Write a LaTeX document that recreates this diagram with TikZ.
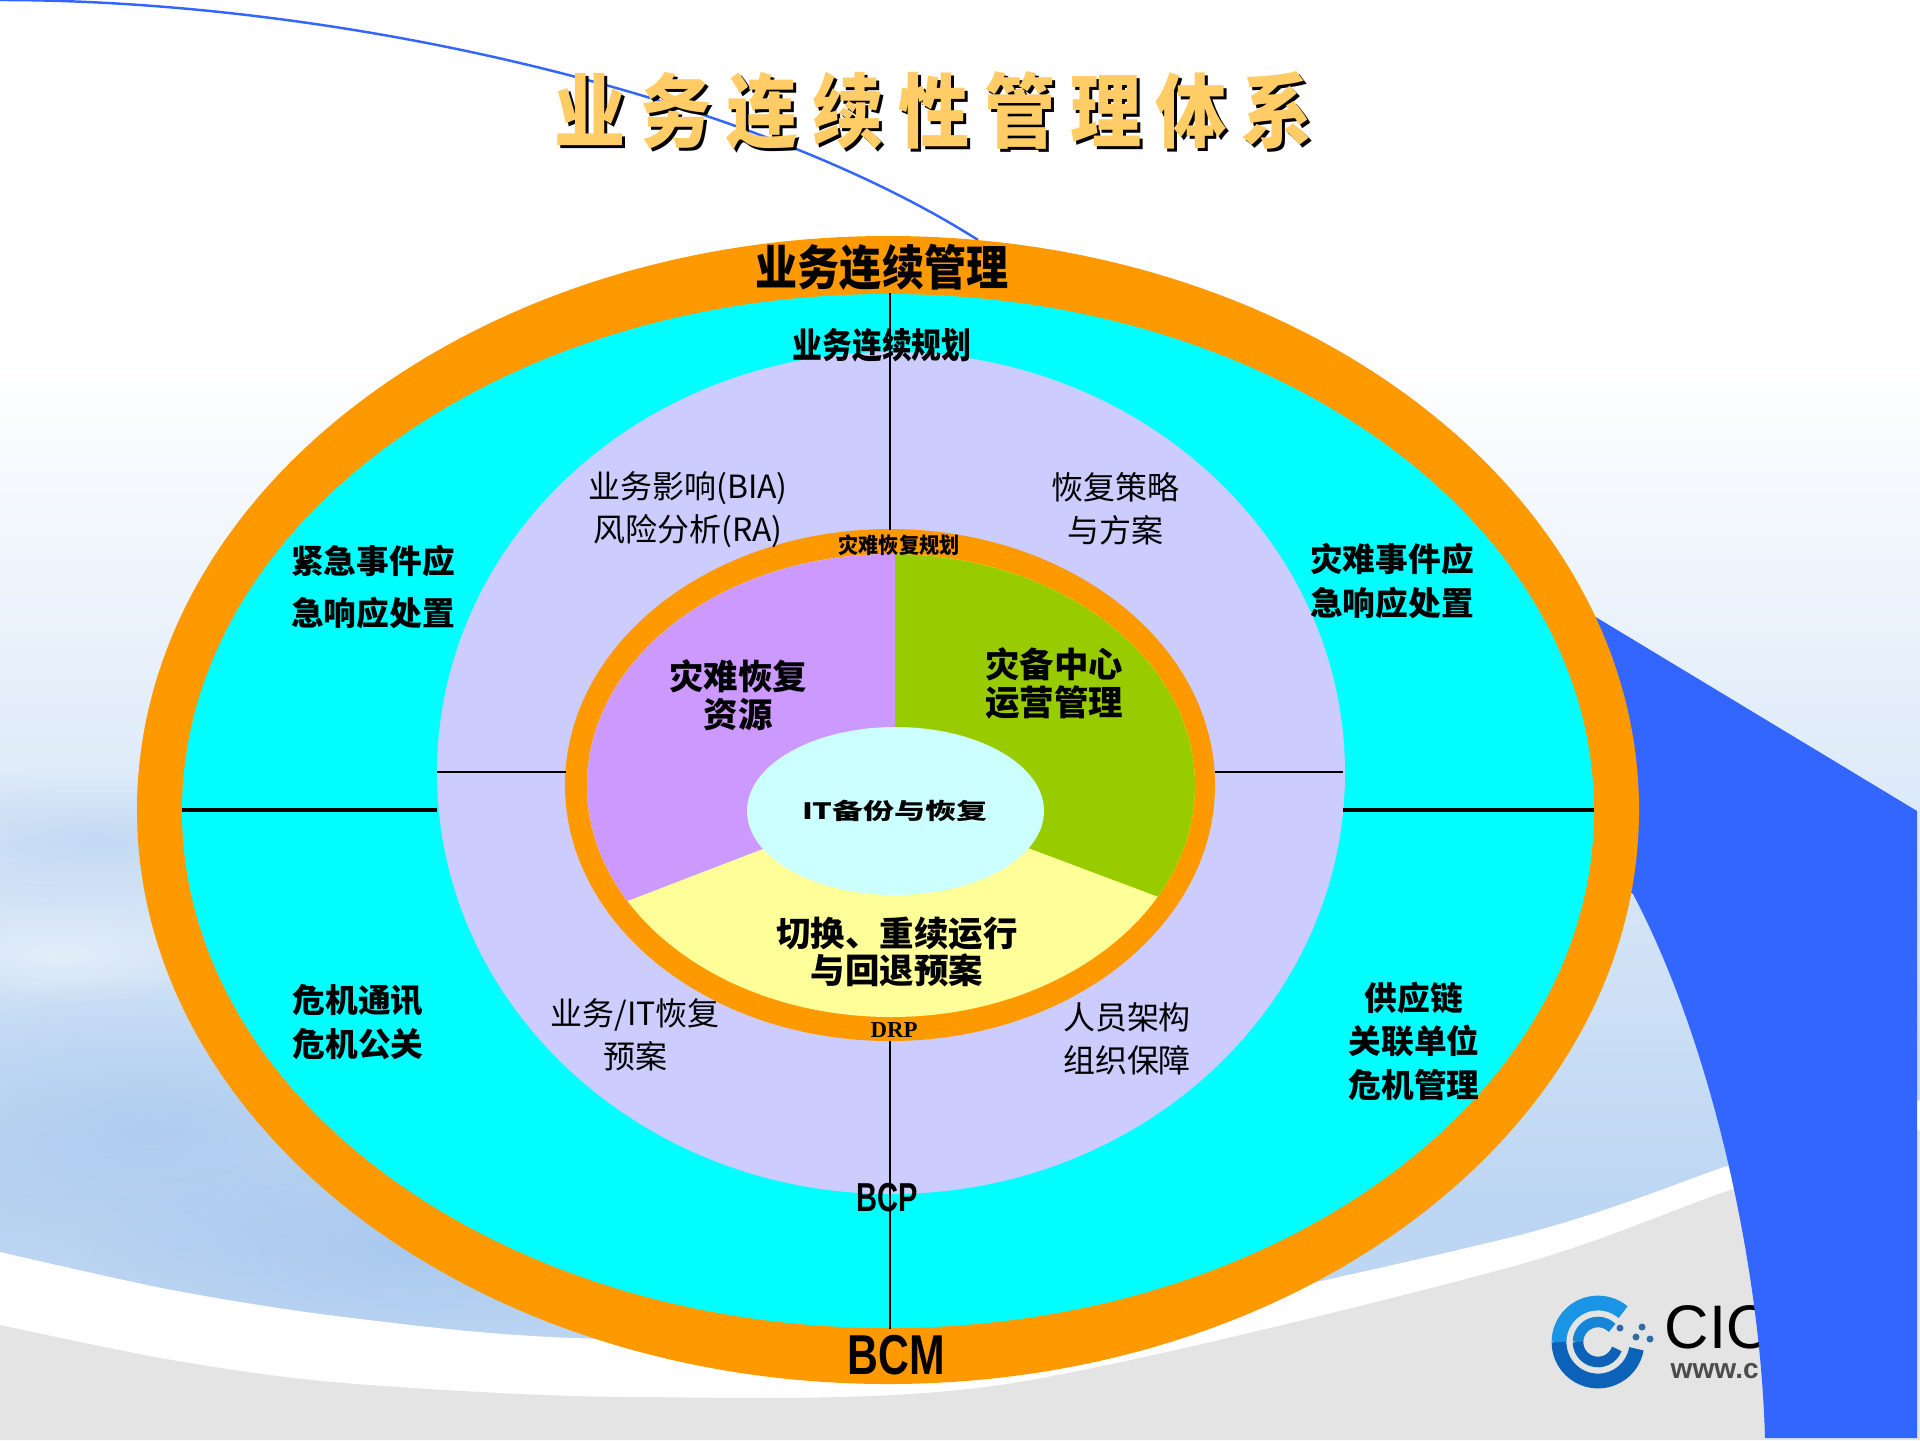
\documentclass[tikz,border=0pt]{standalone}
\usepackage{fontspec}
\setmainfont{Noto Sans CJK SC}
\newfontfamily\bcmfont{Liberation Sans}
\newfontfamily\drpfont{Liberation Serif}
\usetikzlibrary{fadings}
\definecolor{ringorange}{HTML}{FF9900}
\definecolor{ringcyan}{HTML}{00FFFF}
\definecolor{ringlav}{HTML}{CCCCFF}
\definecolor{slicepurple}{HTML}{CC99FF}
\definecolor{slicegreen}{HTML}{99CC00}
\definecolor{sliceyellow}{HTML}{FFFF99}
\definecolor{corepale}{HTML}{CCFFFF}
\definecolor{swoopblue}{HTML}{3366FF}
\definecolor{titlegold}{HTML}{FFCC66}
\definecolor{floorgray}{HTML}{E4E4E4}
\definecolor{hazeblue}{HTML}{BDD6F3}
\definecolor{streakblue}{HTML}{A4C6EE}
\definecolor{logotop}{HTML}{1A94E4}
\definecolor{logolow}{HTML}{0B62B8}
\newcommand{\sx}[2]{\scalebox{#1}[1]{#2}}
\tikzfading[name=softblob,inner color=transparent!20,outer color=transparent!100]
\tikzset{
  lab/.style={align=center,font=\fontsize{9.1}{12.2}\selectfont},
  blab/.style={align=center,font=\fontsize{9.3}{12.4}\selectfont\bfseries},
  slab/.style={align=center,font=\fontsize{9.8}{10.8}\selectfont\bfseries},
  spoke/.style={black,line width=0.5pt},
  hspoke/.style={black,line width=0.9pt},
  titletext/.style={font=\fontsize{23}{23}\selectfont\bfseries\addfontfeature{LetterSpace=20.7}},
}
\begin{document}
\begin{tikzpicture}[x=1cm,y=-1cm]
\useasboundingbox (0,0) rectangle (19.2,14.4);
\fill[white] (0,0) rectangle (19.2,3.6);
\shade[top color=white,bottom color=hazeblue] (0,3.6) rectangle (19.2,12);
\fill[hazeblue] (0,12) rectangle (19.2,14.4);
\fill[streakblue,opacity=.5,path fading=softblob] (1,8.4) ellipse [x radius=3,y radius=.7];
\fill[streakblue,opacity=.8,path fading=softblob] (1.5,11.3) ellipse [x radius=3.6,y radius=1.5];
\fill[streakblue,path fading=softblob] (4.2,12.5) ellipse [x radius=3.5,y radius=1];
\fill[white,opacity=.5,path fading=softblob] (.6,9.54) ellipse [x radius=1.8,y radius=.5];
\fill[white] plot[smooth] coordinates {(0,12.52) (1.72,12.9) (3.44,13.17) (5.74,13.38) (10,13.4) (15,12.4) (17.33,11.64) (19.2,11)} -- (19.2,14.4) -- (0,14.4) -- cycle;
\fill[floorgray] plot[smooth] coordinates {(0,13.25) (1.72,13.6) (3.44,13.83) (6.31,13.97) (10,13.85) (15,12.7) (17.33,11.89) (19.2,11.3)} -- (19.2,14.4) -- (0,14.4) -- cycle;

\draw[line width=4.2pt,logotop] (15.98,13.42) ++(180:.39) arc[start angle=180,end angle=310,radius=.39];
\draw[line width=4.2pt,logolow] (15.98,13.42) ++(10:.39) arc[start angle=10,end angle=180,radius=.39];
\draw[line width=3pt,logotop!70!logolow] (15.98,13.42) ++(180:.2) arc[start angle=180,end angle=315,radius=.2];
\draw[line width=3pt,logolow] (15.98,13.42) ++(20:.2) arc[start angle=20,end angle=180,radius=.2];
\foreach \dx/\dy in {16.2/13.28,16.42/13.27,16.36/13.37,16.5/13.39}
  \fill[logolow!70!gray] (\dx,\dy) circle (.035);
\node[anchor=west,inner sep=0pt,font=\bcmfont\fontsize{17.5}{18}\selectfont] (logoname) at (16.64,13.27){CIO};
\node[anchor=west,inner sep=0pt,text=black!70,font=\bcmfont\fontsize{8}{9}\selectfont\bfseries] (logoweb) at (16.7,13.71){www.c};

\draw[swoopblue,line width=0.7pt] (0,0) .. controls (3.4,0) and (7.5,.95) .. (9.78,2.4);
\fill[swoopblue] (15.94,6.16) -- (19.17,8.11) -- (19.17,14.38) -- (17.65,14.38) .. controls (17.6,12.6) and (17.1,10.4) .. (16.33,8.94) -- (15,8) -- cycle;

\fill[ringorange] (8.88,8.10) ellipse [x radius=7.51,y radius=5.74];
\fill[ringcyan] (8.88,8.11) ellipse [x radius=7.06,y radius=5.17];
\fill[ringlav] (8.91,7.73) ellipse [x radius=4.54,y radius=4.21];
\fill[ringorange] (8.90,7.85) ellipse [x radius=3.25,y radius=2.56];
\begin{scope}
\clip (8.91,7.855) ellipse [x radius=3.04,y radius=2.315];
\fill[sliceyellow] (5,5) rectangle (13,11);
\fill[slicepurple] (8.95,5) -- (8.95,7.98) -- (5,9.5) -- (5,5) -- cycle;
\fill[slicegreen] (8.95,5) -- (8.95,7.98) -- (13,9.5) -- (13,5) -- cycle;
\end{scope}
\fill[corepale] (8.955,8.11) ellipse [x radius=1.485,y radius=.84];

\coordinate (topa) at (8.9,2.93);
\coordinate (topb) at (8.9,5.3);
\coordinate (lowa) at (8.9,10.41);
\coordinate (lowb) at (8.9,13.29);
\coordinate (lefta) at (1.82,8.1);
\coordinate (leftb) at (4.37,8.1);
\coordinate (righta) at (13.43,8.1);
\coordinate (rightb) at (15.94,8.1);
\coordinate (midla) at (4.37,7.72);
\coordinate (midlb) at (5.66,7.72);
\coordinate (midra) at (12.15,7.72);
\coordinate (midrb) at (13.43,7.72);
\draw[spoke] (topa) -- (topb);
\draw[spoke] (lowa) -- (lowb);
\draw[hspoke] (lefta) -- (leftb);
\draw[hspoke] (righta) -- (rightb);
\draw[spoke] (midla) -- (midlb);
\draw[spoke] (midra) -- (midrb);

\node[titletext,text=black] (titleshadow) at (9.37,1.14){\sx{.88}{业务连续性管理体系}};
\node[titletext,text=titlegold] (title) at (9.34,1.11){\sx{.88}{业务连续性管理体系}};

\node[font=\fontsize{13.6}{14}\selectfont\bfseries] (bcmtitle) at (8.82,2.67){\sx{.88}{业务连续管理}};
\node[font=\fontsize{10}{11}\selectfont\bfseries] (bcptitle) at (8.82,3.45){\sx{.85}{业务连续规划}};
\node[lab] (bia) at (6.88,5.1){业务影响(BIA)\\风险分析(RA)};
\node[lab] (strategy) at (11.15,5.09){恢复策略\\与方案};
\node[font=\fontsize{6.2}{7}\selectfont\bfseries] (drptitle) at (8.99,5.45){\sx{.92}{灾难恢复规划}};
\node[slab] (resource) at (7.38,6.95){灾难恢复\\资源};
\node[slab] (center) at (10.54,6.83){灾备中心\\运营管理};
\node[font=\fontsize{6.4}{7}\selectfont\bfseries] (itcore) at (8.95,8.11){\sx{1.38}{IT备份与恢复}};
\node[slab] (switch) at (8.97,9.52){切换、重续运行\\与回退预案};
\node[font=\drpfont\fontsize{6.5}{7}\selectfont\bfseries] (drp) at (8.94,10.3){DRP};
\node[lab] (itplan) at (6.35,10.35){业务/IT恢复\\预案};
\node[lab] (staff) at (11.27,10.39){人员架构\\组织保障};
\node[font=\bcmfont\fontsize{11.5}{12}\selectfont\bfseries] (bcp) at (8.87,11.98){\sx{.72}{BCP}};
\node[font=\bcmfont\fontsize{16}{17}\selectfont\bfseries] (bcm) at (8.96,13.55){\sx{.76}{BCM}};
\node[blab,font=\fontsize{9.3}{15}\selectfont\bfseries] (urgent) at (3.73,5.87){紧急事件应\\急响应处置};
\node[blab] (disaster) at (13.92,5.81){灾难事件应\\急响应处置};
\node[blab] (crisis) at (3.58,10.22){危机通讯\\危机公关};
\node[blab] (supply) at (14.14,10.41){供应链\\关联单位\\危机管理};
\end{tikzpicture}
\end{document}
